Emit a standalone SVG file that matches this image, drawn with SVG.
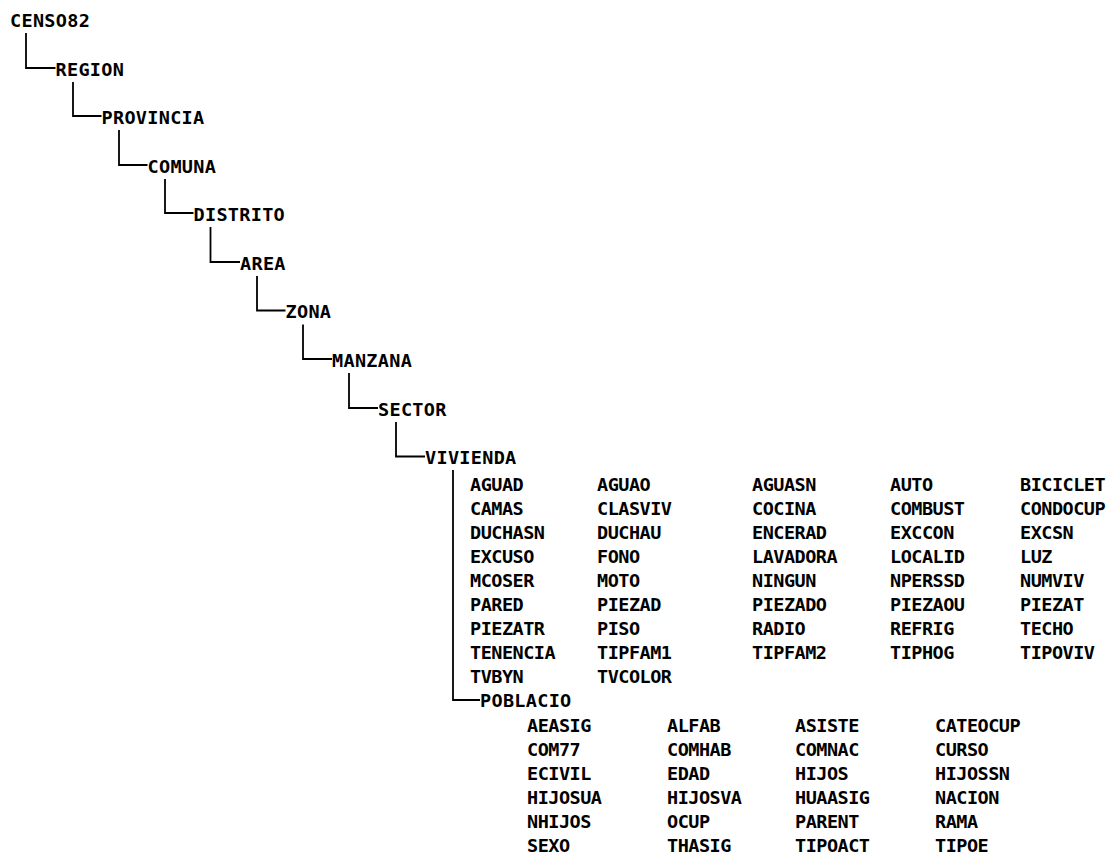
<svg xmlns="http://www.w3.org/2000/svg" width="1115" height="854" viewBox="0 0 1115 854">
<style>
text{font-family:"DejaVu Sans Mono","Liberation Mono",monospace;font-weight:bold;fill:#000}
.n{font-size:18.5px;letter-spacing:0.3px}
.a{font-size:18.5px;letter-spacing:-0.5px}
.c{fill:none;stroke:#000;stroke-width:1.8}
</style>
<rect width="1115" height="854" fill="#fff"/>
<g id="connectors">
<path class="c" d="M26 33V68H55.5"/>
<path class="c" d="M73 82V116H101.5"/>
<path class="c" d="M119 130V165H147.5"/>
<path class="c" d="M165 179V213H193.5"/>
<path class="c" d="M210.5 227V262H240"/>
<path class="c" d="M257 276V310.5H285.5"/>
<path class="c" d="M303 324.5V359H332"/>
<path class="c" d="M349 373V408H378"/>
<path class="c" d="M396 422V456.5H425"/>
<path class="c" d="M453 470V700H480"/>
</g>
<g id="censo82"><text class="n" x="10" y="26.5">CENSO82</text></g>
<g id="region"><text class="n" x="55.5" y="75.5">REGION</text></g>
<g id="provincia"><text class="n" x="101.5" y="123.5">PROVINCIA</text></g>
<g id="comuna"><text class="n" x="147.5" y="172.5">COMUNA</text></g>
<g id="distrito"><text class="n" x="193.5" y="220.5">DISTRITO</text></g>
<g id="area"><text class="n" x="240" y="269.5">AREA</text></g>
<g id="zona"><text class="n" x="285.5" y="318">ZONA</text></g>
<g id="manzana"><text class="n" x="332" y="366.5">MANZANA</text></g>
<g id="sector"><text class="n" x="378" y="415.5">SECTOR</text></g>
<g id="vivienda"><text class="n" x="425" y="464">VIVIENDA</text>
<g class="attrs">
<text class="a" x="470" y="490.5">AGUAD</text><text class="a" x="597" y="490.5">AGUAO</text><text class="a" x="752" y="490.5">AGUASN</text><text class="a" x="890" y="490.5">AUTO</text><text class="a" x="1020" y="490.5">BICICLET</text>
<text class="a" x="470" y="514.6">CAMAS</text><text class="a" x="597" y="514.6">CLASVIV</text><text class="a" x="752" y="514.6">COCINA</text><text class="a" x="890" y="514.6">COMBUST</text><text class="a" x="1020" y="514.6">CONDOCUP</text>
<text class="a" x="470" y="538.7">DUCHASN</text><text class="a" x="597" y="538.7">DUCHAU</text><text class="a" x="752" y="538.7">ENCERAD</text><text class="a" x="890" y="538.7">EXCCON</text><text class="a" x="1020" y="538.7">EXCSN</text>
<text class="a" x="470" y="562.8">EXCUSO</text><text class="a" x="597" y="562.8">FONO</text><text class="a" x="752" y="562.8">LAVADORA</text><text class="a" x="890" y="562.8">LOCALID</text><text class="a" x="1020" y="562.8">LUZ</text>
<text class="a" x="470" y="586.9">MCOSER</text><text class="a" x="597" y="586.9">MOTO</text><text class="a" x="752" y="586.9">NINGUN</text><text class="a" x="890" y="586.9">NPERSSD</text><text class="a" x="1020" y="586.9">NUMVIV</text>
<text class="a" x="470" y="611">PARED</text><text class="a" x="597" y="611">PIEZAD</text><text class="a" x="752" y="611">PIEZADO</text><text class="a" x="890" y="611">PIEZAOU</text><text class="a" x="1020" y="611">PIEZAT</text>
<text class="a" x="470" y="635.1">PIEZATR</text><text class="a" x="597" y="635.1">PISO</text><text class="a" x="752" y="635.1">RADIO</text><text class="a" x="890" y="635.1">REFRIG</text><text class="a" x="1020" y="635.1">TECHO</text>
<text class="a" x="470" y="659.2">TENENCIA</text><text class="a" x="597" y="659.2">TIPFAM1</text><text class="a" x="752" y="659.2">TIPFAM2</text><text class="a" x="890" y="659.2">TIPHOG</text><text class="a" x="1020" y="659.2">TIPOVIV</text>
<text class="a" x="470" y="683.3">TVBYN</text><text class="a" x="597" y="683.3">TVCOLOR</text>
</g>
</g>
<g id="poblacio"><text class="n" x="480" y="707">POBLACIO</text>
<g class="attrs">
<text class="a" x="527" y="731.5">AEASIG</text><text class="a" x="667" y="731.5">ALFAB</text><text class="a" x="795" y="731.5">ASISTE</text><text class="a" x="935" y="731.5">CATEOCUP</text>
<text class="a" x="527" y="755.7">COM77</text><text class="a" x="667" y="755.7">COMHAB</text><text class="a" x="795" y="755.7">COMNAC</text><text class="a" x="935" y="755.7">CURSO</text>
<text class="a" x="527" y="779.9">ECIVIL</text><text class="a" x="667" y="779.9">EDAD</text><text class="a" x="795" y="779.9">HIJOS</text><text class="a" x="935" y="779.9">HIJOSSN</text>
<text class="a" x="527" y="804.1">HIJOSUA</text><text class="a" x="667" y="804.1">HIJOSVA</text><text class="a" x="795" y="804.1">HUAASIG</text><text class="a" x="935" y="804.1">NACION</text>
<text class="a" x="527" y="828.3">NHIJOS</text><text class="a" x="667" y="828.3">OCUP</text><text class="a" x="795" y="828.3">PARENT</text><text class="a" x="935" y="828.3">RAMA</text>
<text class="a" x="527" y="852">SEXO</text><text class="a" x="667" y="852">THASIG</text><text class="a" x="795" y="852">TIPOACT</text><text class="a" x="935" y="852">TIPOE</text>
</g>
</g>
</svg>
